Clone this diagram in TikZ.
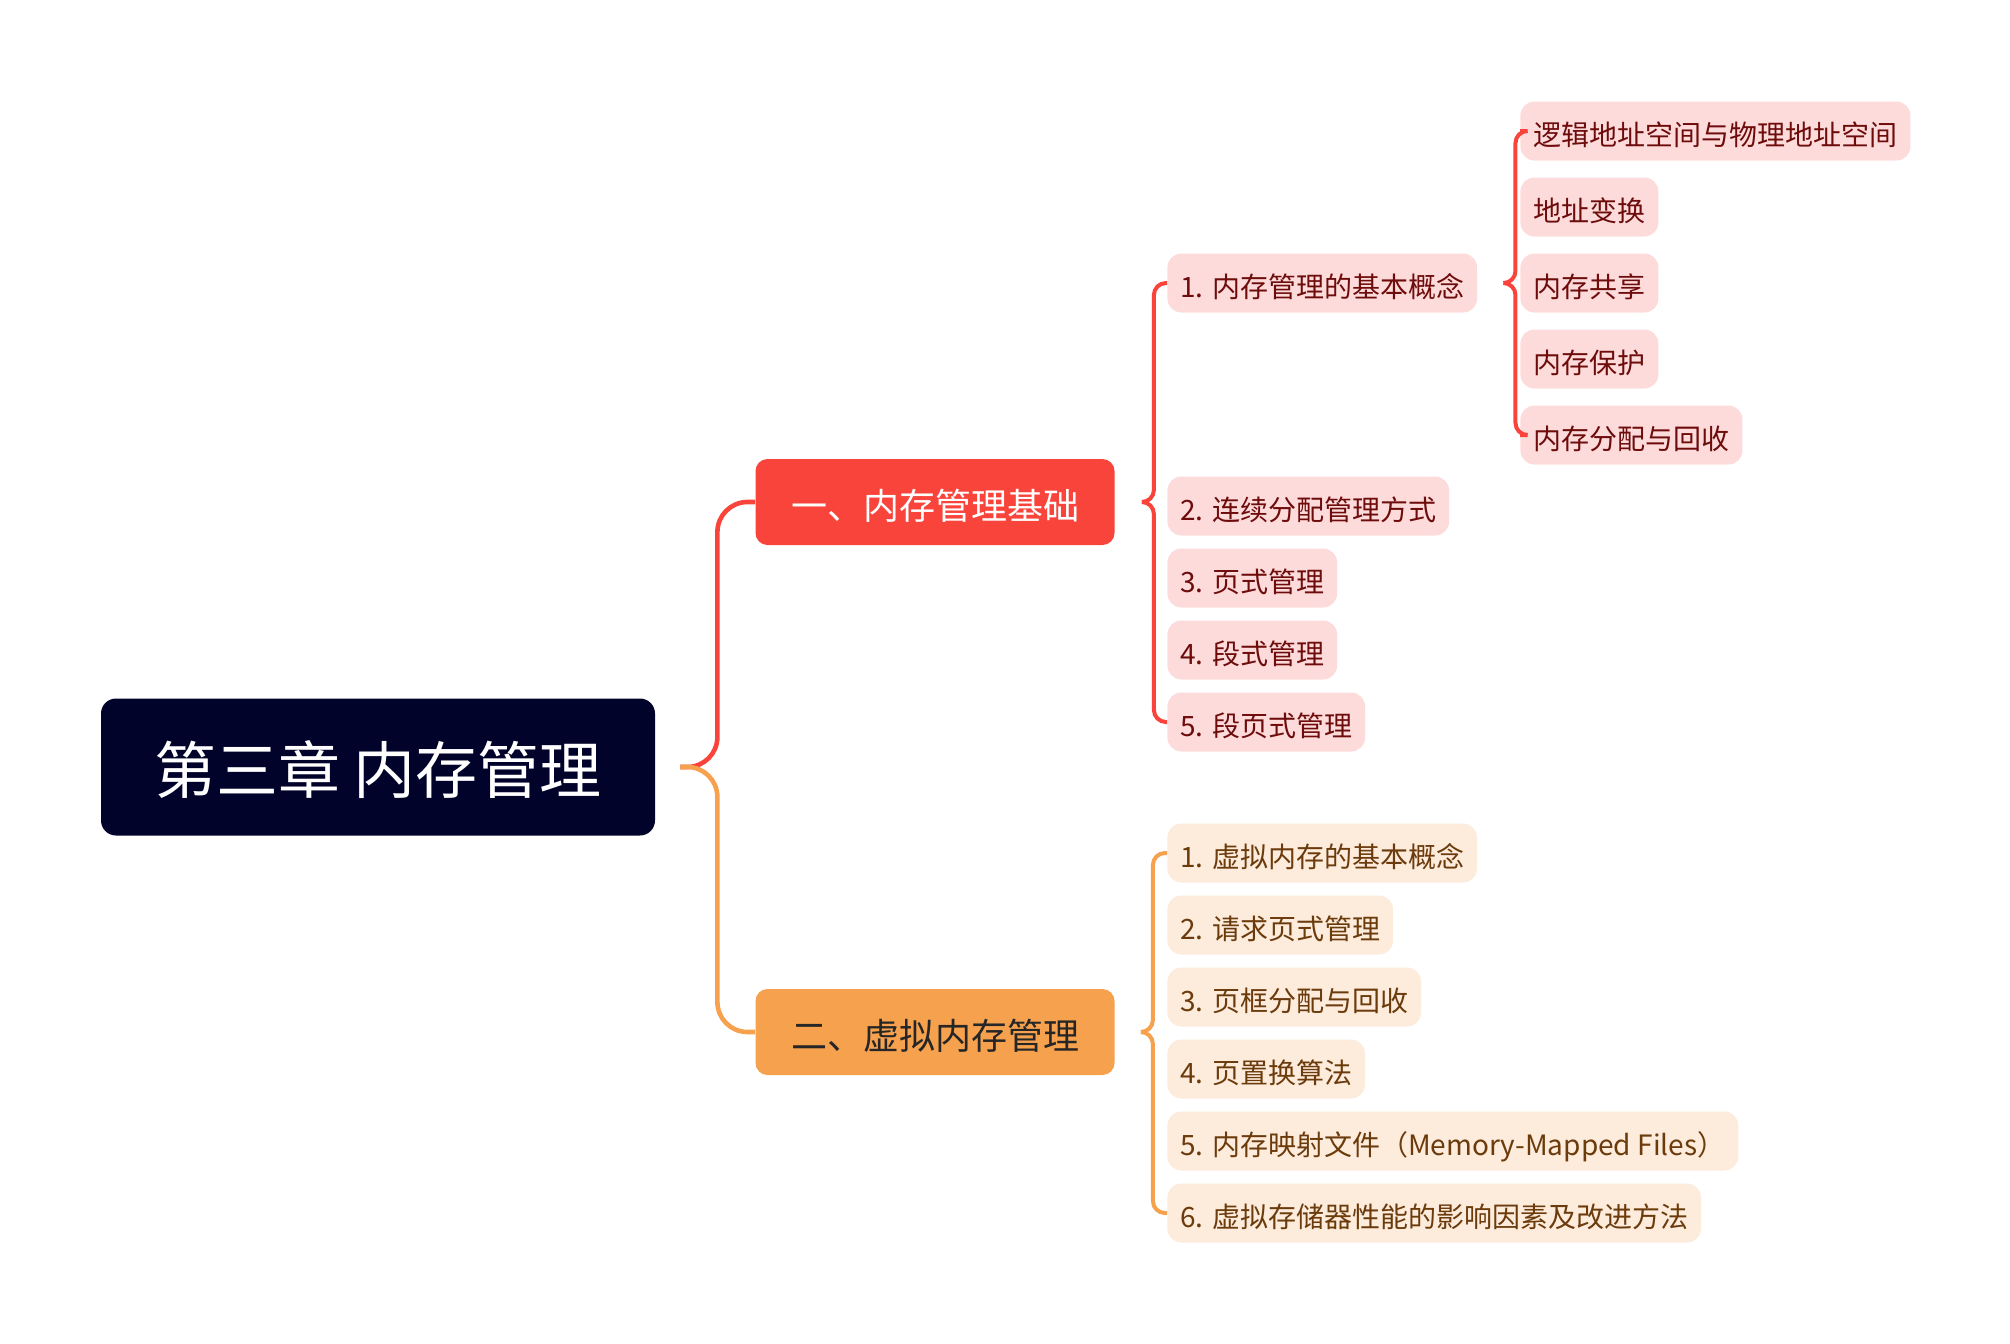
\documentclass[tikz,border=0pt]{standalone}
\usepackage{fontspec}
\setmainfont{Noto Sans CJK SC}
\usepackage{xcolor}
\usepackage{tikz}
\definecolor{rootfill}{HTML}{02032A}
\definecolor{redmain}{HTML}{F9443C}
\definecolor{orgmain}{HTML}{F6A14E}
\definecolor{redlight}{HTML}{FDDBDB}
\definecolor{orglight}{HTML}{FDEBDC}
\definecolor{redtext}{HTML}{6E0C0C}
\definecolor{orgtext}{HTML}{6B3B0C}

\begin{document}
\begin{tikzpicture}[
			     x=0.5pt, y=-0.5pt,
			     root/.style={fill=rootfill, rounded corners=7.5pt, minimum width=277pt, minimum height=68.5pt, text height=28pt, text depth=1.2pt, text=white, font=\fontsize{31}{37}\selectfont},
			     main/.style={rounded corners=6pt, minimum width=179.5pt, minimum height=43pt, inner ysep=2pt, text height=18pt, text depth=1pt, font=\fontsize{18}{22}\selectfont},
			     leaf/.style={anchor=west, rounded corners=7pt, minimum height=29.5pt, inner xsep=6.5pt, inner ysep=2pt, text height=15.5pt, text depth=1pt, font=\fontsize{14}{17}\selectfont},
			     red leaf/.style={leaf, fill=redlight, text=redtext},
			     org leaf/.style={leaf, fill=orglight, text=orgtext},
			     red link/.style={draw=redmain, line width=2.3pt, rounded corners=15pt},
			     org link/.style={draw=orgmain, line width=2.3pt, rounded corners=15pt},
			     red brace/.style={draw=redmain, line width=2pt, rounded corners=6pt},
			     org brace/.style={draw=orgmain, line width=2pt, rounded corners=6pt}
			     ]
\useasboundingbox (0,0) rectangle (2010,1344);

% root and first level
\node[root] (root) at (378,767) {第三章 内存管理};
\node[main, fill=redmain, text=white] (basics) at (935,502) {一、内存管理基础};
\node[main, fill=orgmain, text=black!85] (virt) at (935,1032) {二、虚拟内存管理};

\coordinate (rootport) at ([xshift=12.5pt]root.east);
\draw[red link] (rootport) -- ++(18.5pt,0) |- (basics.west);
\draw[org link] (rootport) -- ++(18.5pt,0) |- (virt.west);

% basics
\node[red leaf] (r1) at (1167,283) {1. 内存管理的基本概念};
\node[red leaf] (r2) at (1167,506) {2. 连续分配管理方式};
\node[red leaf] (r3) at (1167,578) {3. 页式管理};
\node[red leaf] (r4) at (1167,650) {4. 段式管理};
\node[red leaf] (r5) at (1167,722) {5. 段页式管理};

\coordinate (basicstip) at ([xshift=13.5pt]basics.east);
\draw[red brace] (basicstip) -- ++(6pt,0) |- (r1.west);
\draw[red brace] (basicstip) -- ++(6pt,0) |- (r5.west);

% concepts
\node[red leaf] (c1) at (1520,131) {逻辑地址空间与物理地址空间};
\node[red leaf] (c2) at (1520,207) {地址变换};
\node[red leaf] (c3) at (1520,283) {内存共享};
\node[red leaf] (c4) at (1520,359) {内存保护};
\node[red leaf] (c5) at (1520,435) {内存分配与回收};

\coordinate (r1tip) at ([xshift=13pt]r1.east);
\draw[red brace] (r1tip) -- ++(6pt,0) |- (c1.west);
\draw[red brace] (r1tip) -- ++(6pt,0) |- (c5.west);

% virtual memory
\node[org leaf] (v1) at (1167,853) {1. 虚拟内存的基本概念};
\node[org leaf] (v2) at (1167,925) {2. 请求页式管理};
\node[org leaf] (v3) at (1167,997) {3. 页框分配与回收};
\node[org leaf] (v4) at (1167,1069) {4. 页置换算法};
\node[org leaf] (v5) at (1167,1141) {5. 内存映射文件（Memory-Mapped Files）};
\node[org leaf] (v6) at (1167,1213) {6. 虚拟存储器性能的影响因素及改进方法};

\coordinate (virttip) at ([xshift=13pt]virt.east);
\draw[org brace] (virttip) -- ++(6pt,0) |- (v1.west);
\draw[org brace] (virttip) -- ++(6pt,0) |- (v6.west);
\end{tikzpicture}
\end{document}
